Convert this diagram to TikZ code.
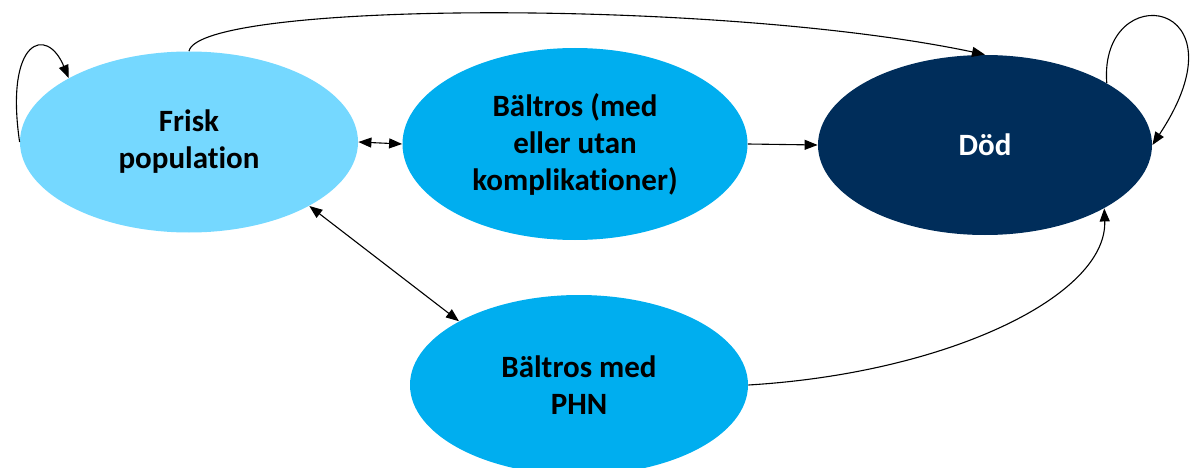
\documentclass[tikz,border=0pt]{standalone}
\usepackage{fontspec}
\setmainfont{Carlito}[Ligatures=NoCommon]
\usetikzlibrary{shapes.geometric,arrows.meta}

\definecolor{friskblue}{HTML}{75D8FF}
\definecolor{zosterblue}{HTML}{00AEEF}
\definecolor{deathnavy}{HTML}{002D5A}

\tikzset{
  state/.style={ellipse, inner sep=0pt, align=center,
    font=\fontsize{15.5}{18.5}\selectfont\bfseries},
  arr/.style={-{Triangle[length=6.5pt,width=5pt]}, line width=0.55pt},
  arrtwo/.style={{Triangle[length=6.5pt,width=5pt]}-{Triangle[length=6.5pt,width=5pt]}, line width=0.55pt}
}

\begin{document}
\begin{tikzpicture}[x=0.5pt, y=0.5pt]
  \useasboundingbox (0,0) rectangle (1194,467);

  % States
  \node[state, fill=friskblue, minimum width=169pt, minimum height=90.5pt] (frisk) at (189,325) {Frisk\\population};
  \node[state, fill=zosterblue, minimum width=172.5pt, minimum height=96pt] (baltros) at (575,323) {Bältros (med\\eller utan\\komplikationer)};
  \node[state, fill=deathnavy, text=white, minimum width=167pt, minimum height=90pt] (dod) at (985,322) {Död};
  \node[state, fill=zosterblue, minimum width=169pt, minimum height=90pt] (phn) at (579,82) {Bältros med\\PHN};

  % Self loops
  \draw[arr] (frisk.west) .. controls +(-15,103) and +(-22,53) .. (frisk.152);
  \draw[arr] (dod.27) .. controls +(-8,106) and +(98,148) .. (dod.east);

  % Transitions
  \draw[arrtwo] (frisk.east) -- (baltros.west);
  \draw[arr] (baltros.east) -- (dod.west);
  \draw[arrtwo] (frisk.-28) -- (phn.152);
  \draw[arr] (frisk.north) .. controls +(11,50) and +(-265,56) .. (dod.north);
  \draw[arr] (phn.east) .. controls +(200,12) and +(3,-87) .. (dod.-28);
\end{tikzpicture}
\end{document}
